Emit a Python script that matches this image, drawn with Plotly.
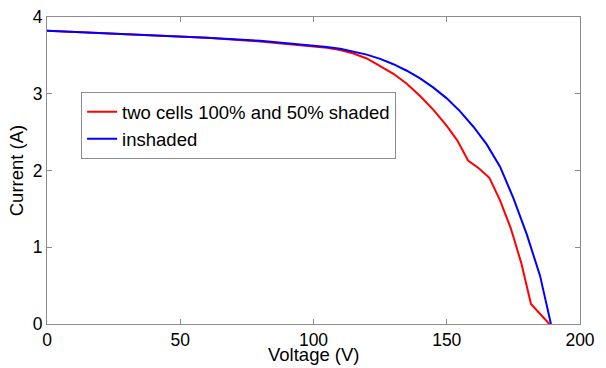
import plotly.graph_objects as go

v_unshaded = [0, 20, 40, 60, 80, 100, 105, 110, 115, 120, 125, 130, 135, 140, 145, 150, 155, 160, 165, 170, 175, 180, 185, 189.1]
i_unshaded = [3.82, 3.79, 3.76, 3.73, 3.69, 3.63, 3.61, 3.585, 3.55, 3.51, 3.455, 3.385, 3.30, 3.20, 3.08, 2.94, 2.77, 2.57, 2.34, 2.05, 1.64, 1.17, 0.63, 0]

v_shaded = [0, 20, 40, 60, 80, 100, 105, 110, 115, 120, 125, 130, 135, 140, 145, 150, 154, 158, 162, 166, 170, 174, 178, 181.6, 188.5]
i_shaded = [3.82, 3.79, 3.76, 3.73, 3.68, 3.62, 3.60, 3.57, 3.525, 3.46, 3.36, 3.26, 3.13, 2.97, 2.79, 2.58, 2.39, 2.13, 2.03, 1.905, 1.61, 1.25, 0.79, 0.26, 0]

x_ticks = [0, 50, 100, 150, 200]
y_ticks = [0, 1, 2, 3, 4]

font = "Liberation Sans, Arial, sans-serif"
fs = 18.5
tfs = 17.5

fig = go.Figure()
fig.add_trace(go.Scatter(x=v_shaded, y=i_shaded, mode="lines",
                         line=dict(color="#ff0000", width=2),
                         name="two cells 100% and 50% shaded"))
fig.add_trace(go.Scatter(x=v_unshaded, y=i_unshaded, mode="lines",
                         line=dict(color="#0000ff", width=2),
                         name="inshaded"))

axis_common = dict(showgrid=False, zeroline=False, showline=True, linecolor="#8c8c8c",
                   linewidth=1, mirror="ticks", ticks="inside", ticklen=5, tickcolor="#8c8c8c",
                   automargin=False,
                   tickfont=dict(family=font, size=tfs, color="black"))

fig.update_layout(
    width=606, height=368,
    margin=dict(l=47, r=26, t=17, b=44),
    paper_bgcolor="white", plot_bgcolor="white",
    font=dict(family=font, size=fs, color="black"),
    xaxis=dict(range=[0, 200], tickvals=x_ticks, **axis_common),
    yaxis=dict(range=[0, 4], tickvals=y_ticks,
               title=dict(text="Current (A)", font=dict(family=font, size=fs), standoff=4),
               **axis_common),
    legend=dict(x=0.064, y=0.755, xanchor="left", yanchor="top",
                bordercolor="#8c8c8c", borderwidth=1, bgcolor="white",
                font=dict(family=font, size=fs), itemwidth=30,
                tracegroupgap=0),
    showlegend=True,
    annotations=[dict(text="Voltage (V)", xref="paper", yref="paper", x=0.5, y=-0.1,
                      xanchor="center", yanchor="middle", showarrow=False,
                      font=dict(family=font, size=fs, color="black"))],
)

fig.write_html("out.html")
